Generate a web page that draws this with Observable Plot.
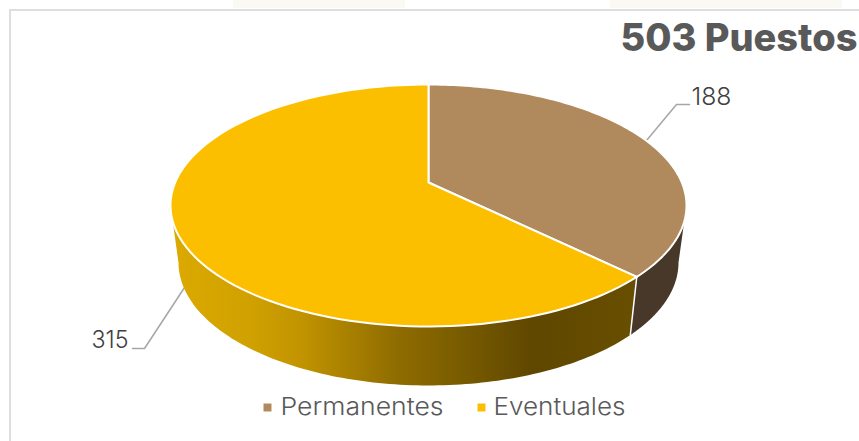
<!DOCTYPE html>
<html>
<head>
<meta charset="utf-8">
<script src="https://cdn.jsdelivr.net/npm/d3@7"></script>
<script src="https://cdn.jsdelivr.net/npm/@observablehq/plot@0.6"></script>
<style>html,body{margin:0;padding:0;background:#fff}svg{display:block}</style>
</head>
<body>
<div id="chart"></div>
<script>
const categories = ["Permanentes", "Eventuales"];
const values = [188, 315];
const colors = ["#b08a5c", "#fcbf00"];
const titleText = "503 Puestos";

const total = d3.sum(values);
const toAngle = v => (v / total) * 2 * Math.PI;

// Tilted disc, projected with perspective, apex at (428,182)
const cx = 428, cy = 182, sx = 253.3, sy = 116.6, persp = 0.19;
const upper = phi => {
  const X = Math.sin(phi), Y = Math.cos(phi), w = 1 + persp * Y;
  return {x: cx + sx * X / w, y: cy - sy * Y / w};
};
const lower = phi => {
  const p = upper(phi);
  return {x: cx + (p.x - cx) * 0.969, y: 262 + (p.y - 205) * 1.0165};
};
const arc = (f, a, b) => d3.range(0, 121).map(i => f(a + (b - a) * i / 120));

const a0 = toAngle(values[0]);
const edgeR = 101 * Math.PI / 180, edgeL = 2 * Math.PI - edgeR;

const topSlices = [
  {pts: [{x: cx, y: cy}, ...arc(upper, 0, a0)], fill: colors[0]},
  {pts: [{x: cx, y: cy}, ...arc(upper, a0, 2 * Math.PI)], fill: colors[1]}
];
const sideBrown = [...arc(upper, edgeR, a0), ...arc(lower, edgeR, a0).reverse()];
const sideGold = [...arc(upper, a0, edgeL), ...arc(lower, a0, edgeL).reverse()];
const divider = [upper(a0), lower(a0)];

const leaderA = [{x: 646, y: 140}, {x: 676, y: 104}, {x: 689, y: 104}];
const leaderB = [{x: 186, y: 284}, {x: 144, y: 348}, {x: 132, y: 348}];

const legendSwatchX = [267, 481];
const legendTextX = [280, 493];
const legendRows = categories.map((c, i) => ({c, col: colors[i], sx: legendSwatchX[i], tx: legendTextX[i]}));

const watermarkBands = [{a: 233, b: 405}, {a: 610, b: 842}];
const textWidths = {"503 Puestos": 237, "188": 40, "315": 37, "Permanentes": 163, "Eventuales": 132};

const goldStops = [[0, "#dcaa00"], [0.16, "#cfa000"], [0.25, "#c29400"], [0.44, "#8f6c00"], [0.58, "#765900"], [0.70, "#5f4700"], [0.89, "#674e00"], [1, "#674e00"]];

const defs = () => {
  const d = d3.create("svg:defs");
  const g = d.append("linearGradient").attr("id", "goldSide")
    .attr("gradientUnits", "userSpaceOnUse")
    .attr("x1", 170).attr("x2", 686).attr("y1", 0).attr("y2", 0);
  goldStops.forEach(([o, c]) => g.append("stop").attr("offset", o).attr("stop-color", c));
  return d.node();
};

const fontMain = "Inter, 'Noto Sans', sans-serif";
const plot = Plot.plot({
  width: 859, height: 441,
  marginTop: 0, marginRight: 0, marginBottom: 0, marginLeft: 0,
  x: {domain: [0, 859], range: [0, 859], axis: null},
  y: {domain: [0, 441], range: [0, 441], axis: null},
  style: {background: "#fff"},
  marks: [
    defs,
    Plot.rect(watermarkBands, {x1: "a", x2: "b", y1: 0, y2: 8, fill: "#fbf9f4"}),
    Plot.ruleY([9.5], {x1: 9, x2: 859, stroke: "#dedede", strokeWidth: 2}),
    Plot.ruleX([9.5], {y1: 9, y2: 441, stroke: "#dedede", strokeWidth: 2}),
    Plot.line(leaderA, {x: "x", y: "y", stroke: "#a6a6a6", strokeWidth: 1.5, curve: "linear"}),
    Plot.line(leaderB, {x: "x", y: "y", stroke: "#a6a6a6", strokeWidth: 1.5, curve: "linear"}),
    Plot.line(sideBrown, {x: "x", y: "y", fill: "#48382a", stroke: "none", curve: "linear-closed"}),
    Plot.line(sideGold, {x: "x", y: "y", fill: "url(#goldSide)", stroke: "none", curve: "linear-closed"}),
    Plot.line(divider, {x: "x", y: "y", stroke: "#fff", strokeWidth: 1.5}),
    ...topSlices.map(s => Plot.line(s.pts, {x: "x", y: "y", fill: s.fill, stroke: "#fff", strokeWidth: 2, strokeLinejoin: "round", curve: "linear-closed"})),
    Plot.text([titleText], {x: 857, y: 38, text: d => d, textAnchor: "end", fontFamily: fontMain, fontWeight: 800, fontSize: 38, fill: "#595959"}),
    Plot.text([values[0]], {x: 691, y: 97, text: d => String(d), textAnchor: "start", fontFamily: fontMain, fontWeight: 300, fontSize: 24, fill: "#404040"}),
    Plot.text([values[1]], {x: 128, y: 340, text: d => String(d), textAnchor: "end", fontFamily: fontMain, fontWeight: 300, fontSize: 24, fill: "#404040"}),
    Plot.dot(legendRows, {x: "sx", y: 407, symbol: "square", r: 4.5, fill: "col", stroke: "none"}),
    Plot.text(legendRows, {x: "tx", y: 407, text: "c", textAnchor: "start", fontFamily: fontMain, fontWeight: 300, fontSize: 24, fill: "#595959"})
  ]
});
d3.select(plot).selectAll("text").each(function () {
  const w = textWidths[this.textContent];
  if (w) d3.select(this).attr("textLength", w).attr("lengthAdjust", "spacingAndGlyphs");
});
document.getElementById("chart").append(plot);
</script>
</body>
</html>
